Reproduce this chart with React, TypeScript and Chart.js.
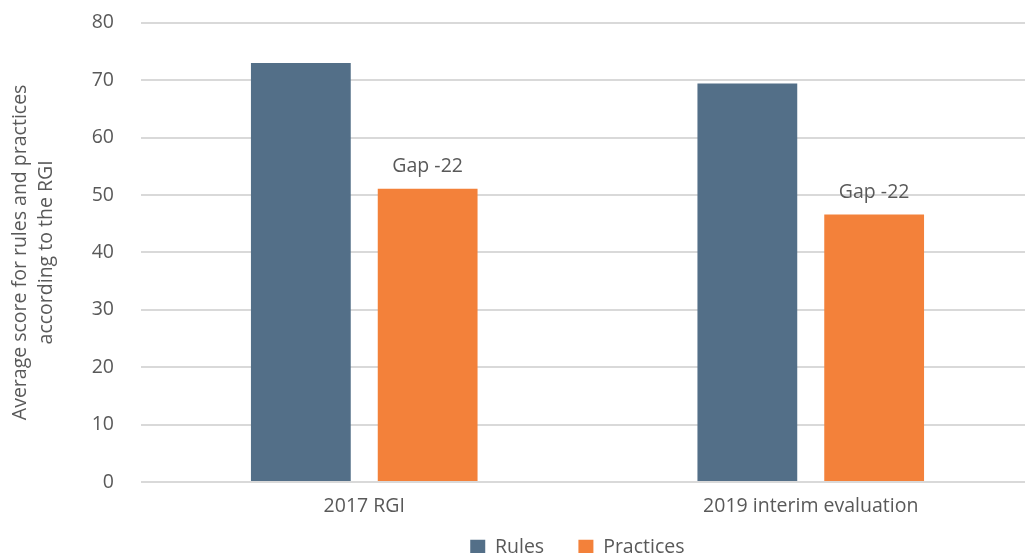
import React, { useEffect, useRef } from "react";
import { Chart, registerables } from "chart.js";

Chart.register(...registerables);

const categories = ["2017 RGI", "2019 interim evaluation"];
const rulesValues = [73, 69.4];
const practicesValues = [51.1, 46.6];
const seriesNames = ["Rules", "Practices"];
const gapLabels = ["Gap -22", "Gap -22"];
const yTicks = [0, 10, 20, 30, 40, 50, 60, 70, 80];
const yTitle = ["Average score for rules and practices", "according to the RGI"];

const FONT = "'Open Sans', 'Noto Sans', sans-serif";
const TEXT = "#595959";
const FS = 19.5;
const COLORS = ["#536f88", "#f3813a"];

const gapPlugin = {
  id: "gapLabels",
  afterDatasetsDraw(chart: any) {
    const meta = chart.getDatasetMeta(1);
    const ctx = chart.ctx;
    ctx.save();
    ctx.font = `${FS}px ${FONT}`;
    ctx.fillStyle = TEXT;
    ctx.textAlign = "center";
    ctx.textBaseline = "middle";
    meta.data.forEach((bar: any, i: number) => {
      ctx.fillText(gapLabels[i], bar.x, bar.y - 22);
    });
    ctx.restore();
  },
};

export default function App() {
  const ref = useRef<HTMLCanvasElement>(null);
  useEffect(() => {
    if (!ref.current) return;
    const chart = new Chart(ref.current, {
      type: "bar",
      data: {
        labels: categories,
        datasets: [
          {
            label: seriesNames[0],
            data: rulesValues,
            backgroundColor: COLORS[0],
            barPercentage: 0.787,
            categoryPercentage: 0.568,
          },
          {
            label: seriesNames[1],
            data: practicesValues,
            backgroundColor: COLORS[1],
            barPercentage: 0.787,
            categoryPercentage: 0.568,
          },
        ],
      },
      options: {
        responsive: false,
        animation: false,
        maintainAspectRatio: false,
        layout: { padding: { left: 0, right: 0, top: 0, bottom: 0 } },
        plugins: {
          tooltip: { enabled: false },
          legend: {
            position: "bottom",
            fullSize: false,
            labels: {
              color: TEXT,
              font: { family: FONT, size: FS },
              boxWidth: 15,
              boxHeight: 15,
              padding: 14,
              generateLabels: (c: any) =>
                c.data.datasets.map((ds: any, i: number) => ({
                  text: ds.label + "    ",
                  fillStyle: ds.backgroundColor,
                  strokeStyle: ds.backgroundColor,
                  lineWidth: 0,
                  hidden: false,
                  datasetIndex: i,
                  fontColor: TEXT,
                })),
            },
          },
        },
        scales: {
          x: {
            grid: { display: false },
            border: { display: false },
            ticks: { color: TEXT, font: { family: FONT, size: FS }, padding: 5 },
          },
          y: {
            min: 0,
            max: 80,
            afterBuildTicks: (axis: any) => {
              axis.ticks = yTicks.map((v) => ({ value: v }));
            },
            grid: { color: "#d9d9d9", lineWidth: 2, drawTicks: false },
            border: { display: false },
            ticks: { color: TEXT, font: { family: FONT, size: FS }, padding: 27 },
            title: {
              display: true,
              text: yTitle,
              color: TEXT,
              font: { family: FONT, size: FS, lineHeight: 1.3 },
              padding: { top: 8, bottom: 6 },
            },
          },
        },
      },
      plugins: [gapPlugin],
    });
    return () => chart.destroy();
  }, []);
  return (
    <div
      style={{
        position: "fixed",
        left: 0,
        top: 0,
        width: 1025,
        height: 553,
        overflow: "hidden",
        background: "#fff",
      }}
    >
      <canvas
        ref={ref}
        width={1034}
        height={583}
        style={{ display: "block", marginTop: -16 }}
      />
    </div>
  );
}
